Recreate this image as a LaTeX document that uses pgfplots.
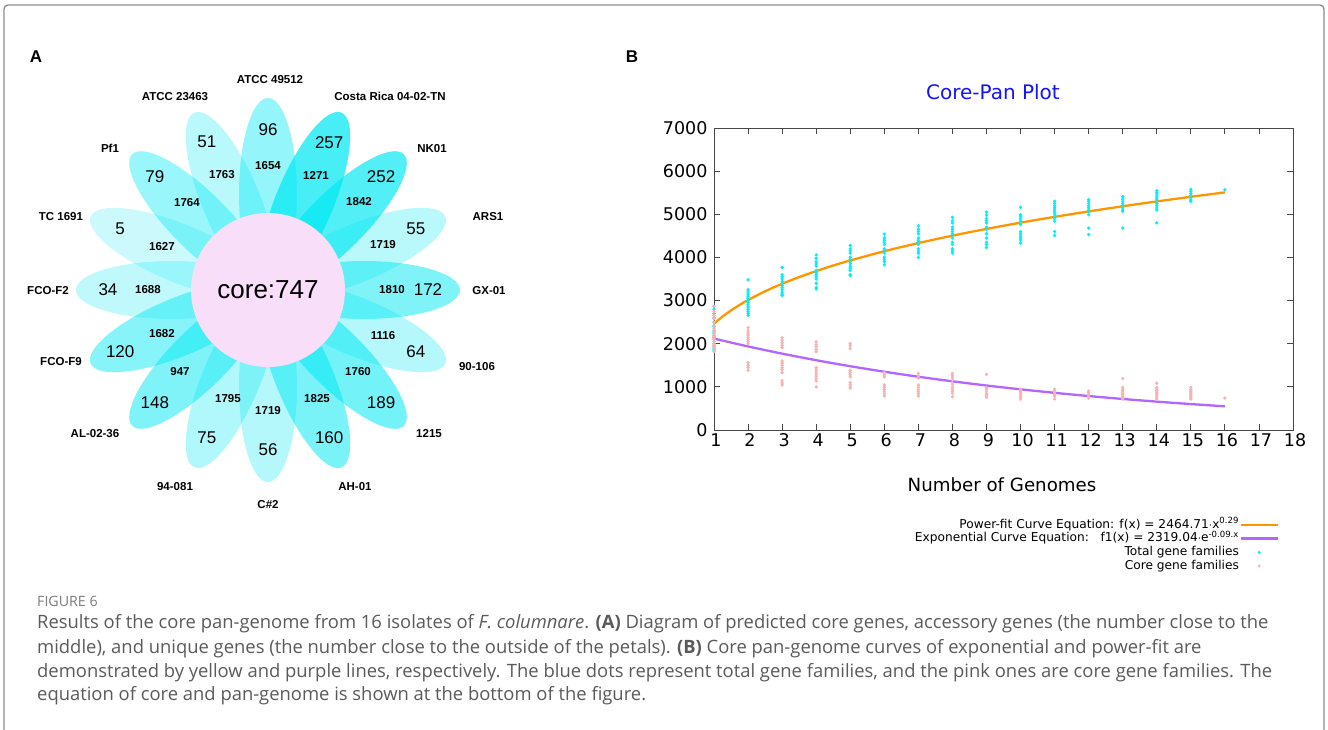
\documentclass[border=0pt]{standalone}
\usepackage{fontspec}
\usepackage{pgfplots}
\pgfplotsset{compat=1.18}
\newfontfamily\arial{Liberation Sans}
\newfontfamily\dejavu{DejaVu Sans}
\newfontfamily\capfont{Open Sans}
\definecolor{petal}{RGB}{0,232,242}
\definecolor{corepink}{RGB}{249,222,249}
\definecolor{totcol}{RGB}{0,240,245}
\definecolor{corecol}{RGB}{248,178,178}
\definecolor{orangeline}{RGB}{255,150,0}
\definecolor{purpleline}{RGB}{178,102,255}
\definecolor{capgray}{RGB}{90,90,90}
\definecolor{framegray}{RGB}{140,140,140}
\definecolor{titleblue}{RGB}{20,20,250}
\begin{document}
\begin{tikzpicture}[x=1pt,y=1pt]
\useasboundingbox (0,0) rectangle (1328,-729);
\draw[framegray, line width=1.3pt, rounded corners=4pt] (4,-745) -- (4,-5) -- (1324,-5) -- (1324,-745);

% panel labels
\node[font=\arial\bfseries\fontsize{17}{17}\selectfont] at (36,-57) {A};
\node[font=\arial\bfseries\fontsize{17}{17}\selectfont] at (632,-57) {B};

% ---------------- Panel A: flower diagram ----------------
\begin{axis}[at={(268pt,-290pt)}, anchor=center, scale only axis,
  width=480pt, height=480pt, xmin=-240, xmax=240, ymin=-240, ymax=240,
  hide axis, clip=false]
\fill[petal, fill opacity=0.20, rotate around={157.5:(axis cs:0,0)}] (axis cs:96,0) ellipse [x radius=96, y radius=29];
\fill[petal, fill opacity=0.25, rotate around={180:(axis cs:0,0)}] (axis cs:96,0) ellipse [x radius=96, y radius=29];
\fill[petal, fill opacity=0.27, rotate around={112.5:(axis cs:0,0)}] (axis cs:96,0) ellipse [x radius=96, y radius=29];
\fill[petal, fill opacity=0.27, rotate around={22.5:(axis cs:0,0)}] (axis cs:96,0) ellipse [x radius=96, y radius=29];
\fill[petal, fill opacity=0.29, rotate around={-90:(axis cs:0,0)}] (axis cs:96,0) ellipse [x radius=96, y radius=29];
\fill[petal, fill opacity=0.29, rotate around={-22.5:(axis cs:0,0)}] (axis cs:96,0) ellipse [x radius=96, y radius=29];
\fill[petal, fill opacity=0.31, rotate around={-112.5:(axis cs:0,0)}] (axis cs:96,0) ellipse [x radius=96, y radius=29];
\fill[petal, fill opacity=0.40, rotate around={135:(axis cs:0,0)}] (axis cs:96,0) ellipse [x radius=96, y radius=29];
\fill[petal, fill opacity=0.42, rotate around={90:(axis cs:0,0)}] (axis cs:96,0) ellipse [x radius=96, y radius=29];
\fill[petal, fill opacity=0.47, rotate around={-157.5:(axis cs:0,0)}] (axis cs:96,0) ellipse [x radius=96, y radius=29];
\fill[petal, fill opacity=0.50, rotate around={-135:(axis cs:0,0)}] (axis cs:96,0) ellipse [x radius=96, y radius=29];
\fill[petal, fill opacity=0.52, rotate around={-67.5:(axis cs:0,0)}] (axis cs:96,0) ellipse [x radius=96, y radius=29];
\fill[petal, fill opacity=0.50, rotate around={0:(axis cs:0,0)}] (axis cs:96,0) ellipse [x radius=96, y radius=29];
\fill[petal, fill opacity=0.55, rotate around={-45:(axis cs:0,0)}] (axis cs:96,0) ellipse [x radius=96, y radius=29];
\fill[petal, fill opacity=0.68, rotate around={45:(axis cs:0,0)}] (axis cs:96,0) ellipse [x radius=96, y radius=29];
\fill[petal, fill opacity=0.72, rotate around={67.5:(axis cs:0,0)}] (axis cs:96,0) ellipse [x radius=96, y radius=29];
\fill[corepink] (axis cs:0,0) circle [radius=77];
\node[font=\arial\fontsize{26}{26}\selectfont] at (axis cs:0,0) {core:747};
% unique numbers (r = 160)
\begin{scope}[every node/.style={font=\arial\fontsize{17}{17}\selectfont}]
\node at (axis cs:0,160) {96};
\node at (axis cs:61.2,147.8) {257};
\node at (axis cs:113.1,113.1) {252};
\node at (axis cs:147.8,61.2) {55};
\node at (axis cs:160,0) {172};
\node at (axis cs:147.8,-61.2) {64};
\node at (axis cs:113.1,-113.1) {189};
\node at (axis cs:61.2,-147.8) {160};
\node at (axis cs:0,-160) {56};
\node at (axis cs:-61.2,-147.8) {75};
\node at (axis cs:-113.1,-113.1) {148};
\node at (axis cs:-147.8,-61.2) {120};
\node at (axis cs:-160,0) {34};
\node at (axis cs:-147.8,61.2) {5};
\node at (axis cs:-113.1,113.1) {79};
\node at (axis cs:-61.2,147.8) {51};
\end{scope}
% accessory numbers (r = 122)
\begin{scope}[every node/.style={font=\arial\bfseries\fontsize{11.5}{12}\selectfont}]
\node at (axis cs:0,124) {1654};
\node at (axis cs:48,115) {1271};
\node at (axis cs:91,88) {1842};
\node at (axis cs:115,45) {1719};
\node at (axis cs:124,0) {1810};
\node at (axis cs:115,-46) {1116};
\node at (axis cs:90,-82) {1760};
\node at (axis cs:49,-109) {1825};
\node at (axis cs:0,-121) {1719};
\node at (axis cs:-40,-109) {1795};
\node at (axis cs:-88,-82) {947};
\node at (axis cs:-106,-44) {1682};
\node at (axis cs:-120,0) {1688};
\node at (axis cs:-106,43) {1627};
\node at (axis cs:-81,87) {1764};
\node at (axis cs:-46,115) {1763};
\end{scope}
% strain names
\begin{scope}[every node/.style={font=\arial\bfseries\fontsize{11.5}{12}\selectfont}]
\node at (axis cs:2,210) {ATCC 49512};
\node at (axis cs:-93,193) {ATCC 23463};
\node at (axis cs:122,194) {Costa Rica 04-02-TN};
\node at (axis cs:-158,142) {Pf1};
\node at (axis cs:164,141) {NK01};
\node at (axis cs:-207,73) {TC 1691};
\node at (axis cs:220,73) {ARS1};
\node at (axis cs:-220,-1) {FCO-F2};
\node at (axis cs:221,-1) {GX-01};
\node at (axis cs:-207,-72) {FCO-F9};
\node at (axis cs:209,-77) {90-106};
\node at (axis cs:-173,-144) {AL-02-36};
\node at (axis cs:161,-144) {1215};
\node at (axis cs:-93,-197) {94-081};
\node at (axis cs:87,-197) {AH-01};
\node at (axis cs:0,-215) {C\#2};
\end{scope}
\end{axis}

% ---------------- Panel B: core-pan plot ----------------
\begin{axis}[at={(714pt,-430pt)}, anchor=south west, scale only axis,
  width=579pt, height=302pt,
  xmin=1, xmax=18, ymin=0, ymax=7000,
  xtick={1,...,18}, ytick={0,1000,...,7000},
  axis line style={draw=black!72, line width=1pt},
  tick style={black!72, line width=0.9pt},
  major tick length=6pt,
  tick label style={font=\dejavu\fontsize{17.5}{17.5}\selectfont},
  xticklabel style={xshift=2pt},
  yticklabel style={xshift=-3pt},
  /pgf/number format/assume math mode=true,
  /pgf/number format/1000 sep={},
  scaled y ticks=false,
  legend plot pos=right,
  legend cell align=right,
  legend image code/.code={\draw[mark repeat=2,mark phase=2,#1] plot coordinates {(0pt,0pt) (18.5pt,0pt) (37pt,0pt)};},
  legend style={at={(0.981,-0.285)}, anchor=north east, draw=none, fill=none,
    font=\dejavu\fontsize{12.2}{12.2}\selectfont, row sep=0.5pt,
    nodes={inner sep=0.5pt, text height=9.5pt, text depth=2.7pt}},
]
\addplot[only marks, mark=*, mark size=1.5pt, color=totcol, forget plot] coordinates {
(1,1850)(1,1900)(1,1950)(1,2000)(1,2050)(1,2100)(1,2150)(1,2200)(1,2250)(1,2300)(1,2400)(1,2500)(1,2600)(1,2700)(1,2800)(1,2870)
(2,3480)(2,3250)(2,3200)(2,3150)(2,3100)(2,3050)(2,3000)(2,2950)(2,2900)(2,2850)(2,2800)(2,2750)(2,2700)(2,2660)
(3,3770)(3,3600)(3,3550)(3,3500)(3,3450)(3,3400)(3,3350)(3,3300)(3,3250)(3,3200)(3,3150)(3,3120)
(4,4060)(4,3980)(4,3900)(4,3850)(4,3800)(4,3700)(4,3650)(4,3600)(4,3550)(4,3500)(4,3400)(4,3300)(4,3270)
(5,4280)(5,4200)(5,4150)(5,4100)(5,4000)(5,3950)(5,3900)(5,3850)(5,3800)(5,3750)(5,3700)(5,3600)(5,3580)
(6,4540)(6,4450)(6,4400)(6,4350)(6,4300)(6,4200)(6,4150)(6,4100)(6,4000)(6,3950)(6,3900)(6,3830)
(7,4730)(7,4650)(7,4600)(7,4550)(7,4450)(7,4400)(7,4350)(7,4300)(7,4200)(7,4150)(7,4100)(7,4000)
(8,4930)(8,4850)(8,4800)(8,4700)(8,4650)(8,4600)(8,4550)(8,4450)(8,4350)(8,4300)(8,4200)(8,4150)(8,4100)
(9,5050)(9,4980)(9,4900)(9,4850)(9,4800)(9,4700)(9,4650)(9,4550)(9,4450)(9,4350)(9,4300)(9,4230)
(10,5160)(10,4990)(10,4950)(10,4900)(10,4850)(10,4800)(10,4760)(10,4600)(10,4550)(10,4500)(10,4450)(10,4400)(10,4330)
(11,5300)(11,5250)(11,5200)(11,5150)(11,5100)(11,5050)(11,5000)(11,4950)(11,4900)(11,4840)(11,4600)(11,4510)
(12,5340)(12,5300)(12,5250)(12,5200)(12,5150)(12,5100)(12,5050)(12,4990)(12,4680)(12,4530)
(13,5410)(13,5350)(13,5300)(13,5250)(13,5200)(13,5150)(13,5100)(13,5070)(13,4680)
(14,5550)(14,5500)(14,5450)(14,5400)(14,5350)(14,5300)(14,5250)(14,5200)(14,5150)(14,5100)(14,4800)
(15,5580)(15,5530)(15,5480)(15,5430)(15,5380)(15,5330)(15,5300)
(16,5570)
};
\addplot[only marks, mark=*, mark size=1.5pt, color=corecol, forget plot] coordinates {
(1,1815)(1,1870)(1,1930)(1,1990)(1,2050)(1,2110)(1,2170)(1,2230)(1,2290)(1,2350)(1,2420)(1,2500)(1,2580)(1,2660)(1,2750)(1,2870)
(2,2370)(2,2300)(2,2250)(2,2200)(2,2150)(2,2100)(2,2050)(2,2000)(2,1560)(2,1500)(2,1450)(2,1385)
(3,2140)(3,2080)(3,2020)(3,1960)(3,1910)(3,1600)(3,1550)(3,1500)(3,1450)(3,1400)(3,1330)(3,1140)(3,1090)(3,1045)
(4,2045)(4,1980)(4,1930)(4,1870)(4,1815)(4,1445)(4,1400)(4,1350)(4,1300)(4,1250)(4,1200)(4,1140)(4,1000)
(5,2000)(5,1950)(5,1885)(5,1385)(5,1330)(5,1280)(5,1230)(5,1100)(5,1050)(5,1000)(5,970)
(6,1330)(6,1280)(6,1230)(6,1045)(6,990)(6,940)(6,890)(6,840)(6,790)
(7,1310)(7,1250)(7,1200)(7,1045)(7,990)(7,940)(7,890)(7,840)(7,790)
(8,1310)(8,1260)(8,1210)(8,1155)(8,1060)(8,1000)(8,950)(8,900)(8,850)(8,770)
(9,1290)(9,985)(9,940)(9,890)(9,840)(9,800)(9,755)
(10,945)(10,900)(10,870)(10,840)(10,800)(10,760)(10,715)
(11,945)(11,900)(11,860)(11,820)(11,780)(11,720)
(12,905)(12,870)(12,830)(12,790)(12,740)
(13,1190)(13,985)(13,940)(13,900)(13,860)(13,820)(13,780)(13,740)(13,715)
(14,1085)(14,985)(14,950)(14,910)(14,870)(14,830)(14,790)(14,750)(14,715)
(15,985)(15,940)(15,900)(15,860)(15,820)(15,780)(15,740)(15,715)
(16,740)
};
\addplot[orangeline, line width=2.3pt, smooth, mark=none] coordinates {
(1,2464.7)(1.25,2629.6)(1.5,2772.3)(1.75,2899.0)(2,3013.4)(2.5,3215.0)(3,3389.5)(3.5,3544.5)(4,3684.3)(4.5,3812.4)(5,3930.5)(6,4144.2)(7,4333.5)(8,4504.5)(9,4661.3)(10,4805.7)(11,4940.8)(12,5066.7)(13,5185.8)(14,5298.4)(15,5405.6)(16,5508.2)
};
\addlegendentry{Power-fit Curve Equation: f(x) = 2464.71$\cdot$x\textsuperscript{0.29}}
\addplot[purpleline, line width=2.3pt, smooth, mark=none] coordinates {
(1,2119.4)(2,1937.0)(3,1770.3)(4,1617.9)(5,1478.7)(6,1351.4)(7,1235.1)(8,1128.8)(9,1031.6)(10,942.9)(11,861.7)(12,787.5)(13,719.8)(14,657.8)(15,601.2)(16,549.5)
};
\addlegendentry{Exponential Curve Equation:\ \ \ f1(x) = 2319.04$\cdot$e\textsuperscript{-0.09.x}}
\addlegendimage{only marks, mark=*, mark size=1.3pt, color=totcol}
\addlegendentry{Total gene families}
\addlegendimage{only marks, mark=*, mark size=1.3pt, color=corecol}
\addlegendentry{Core gene families}
\end{axis}
\node[font=\dejavu\fontsize{20}{20}\selectfont, text=titleblue] at (993,-92) {Core-Pan Plot};
\node[font=\dejavu\fontsize{18.2}{18.2}\selectfont] at (1002,-485) {Number of Genomes};

% ---------------- Caption ----------------
\node[anchor=base west, inner sep=0pt, font=\capfont\fontsize{14.2}{14}\selectfont, text=capgray!80] at (37,-606) {FIGURE 6};
\begin{scope}[every node/.style={anchor=base west, inner sep=0pt, font=\capfont\fontsize{18.4}{18}\selectfont, text=capgray}]
\node at (37,-628.5) {Results of the core pan-genome from 16 isolates of \textit{F. columnare}. \textbf{(A)} Diagram of predicted core genes, accessory genes (the number close to the};
\node at (37,-653) {middle), and unique genes (the number close to the outside of the petals). \textbf{(B)} Core pan-genome curves of exponential and power-fit are};
\node at (37,-677) {demonstrated by yellow and purple lines, respectively. The blue dots represent total gene families, and the pink ones are core gene families. The};
\node at (37,-700.5) {equation of core and pan-genome is shown at the bottom of the figure.};
\end{scope}
\end{tikzpicture}
\end{document}
